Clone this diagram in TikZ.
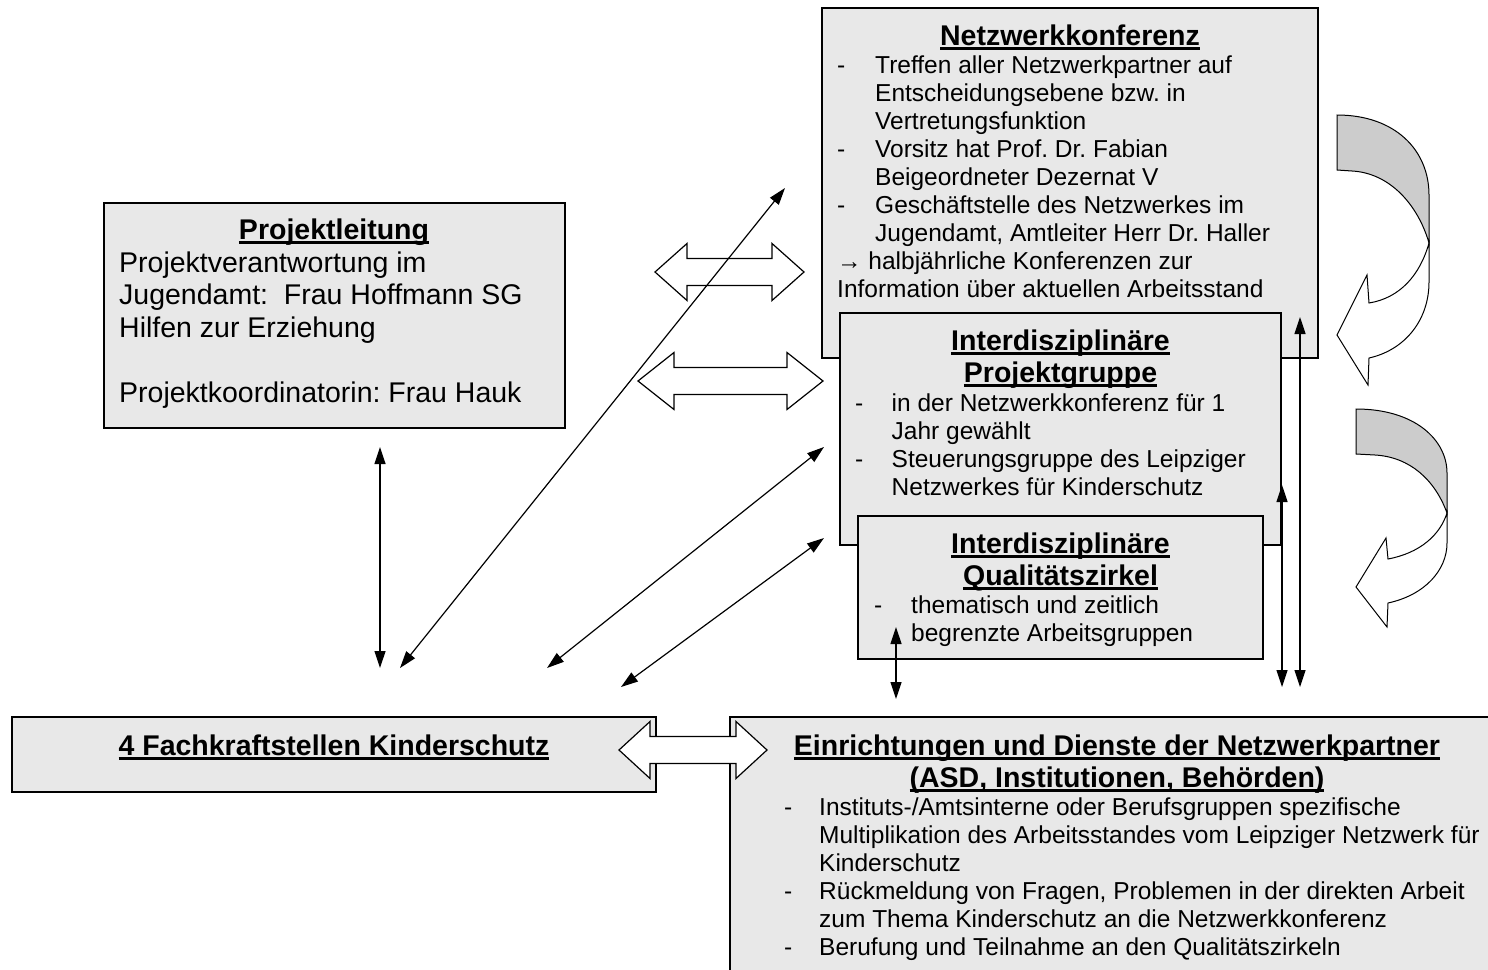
\documentclass[tikz,border=0pt]{standalone}
\usepackage{fontspec}
\setmainfont{Liberation Sans}
\usetikzlibrary{arrows.meta}
\definecolor{boxgray}{gray}{0.91}
\definecolor{bendgray}{gray}{0.8}
\frenchspacing
\newcommand{\titlesize}{\fontsize{28.5}{32}\selectfont\bfseries}
\newcommand{\bodysize}{\fontsize{24.5}{28.1}\selectfont}
\newcommand{\leitsize}{\fontsize{28.5}{32.5}\selectfont}
\newcommand{\ttl}[1]{\setbox0=\hbox{#1}\rlap{\rule[-5.2pt]{\wd0}{3.3pt}}\box0}
\def\blockarrow(#1:#2:#3:#4){\draw[blockarrow] (#1,#3) -- (#1+#4,#3-28.5) -- (#1+#4,#3-13.5) -- (#2-#4,#3-13.5) -- (#2-#4,#3-28.5) -- (#2,#3) -- (#2-#4,#3+28.5) -- (#2-#4,#3+13.5) -- (#1+#4,#3+13.5) -- (#1+#4,#3+28.5) -- cycle;}

\begin{document}
\begin{tikzpicture}[x=1pt,y=-1pt,
	box/.style={draw, line width=1.3pt, fill=boxgray, anchor=north west, inner sep=0, outer sep=0},
	title/.style={anchor=north, inner sep=0, font=\titlesize},
	body/.style={anchor=north west, inner sep=0, font=\bodysize},
	link/.style={line width=1.2pt, {Triangle[length=17pt,width=11pt]}-{Triangle[length=17pt,width=11pt]}},
	blockarrow/.style={draw, line width=1.2pt, fill=white, line join=miter},
	bendarrow/.style={draw, line width=1pt}]
		\useasboundingbox (0,0) rectangle (1488,969);
		\clip (0,0) rectangle (1488,969);
		
		%%%%% NETZWERKKONFERENZ %%%%%
		\node[box, minimum width=496, minimum height=350] (konferenz) at (822,8) {};
		\node[title] (konferenz-titel) at (1070,22.6) {\begin{tabular}{@{}c@{}}\ttl{Netzwerkkonferenz}\end{tabular}};
		\node[body] (konferenz-text) at (837,53.3) {\begin{tabular}{@{}p{38pt}@{}l@{}}
			- & Treffen aller Netzwerkpartner auf\\
			& Entscheidungsebene bzw. in\\
			& Vertretungsfunktion\\
			- & Vorsitz hat Prof. Dr. Fabian\\
			& Beigeordneter Dezernat V\\
			- & Geschäftstelle des Netzwerkes im\\
			& Jugendamt, Amtleiter Herr Dr. Haller\\
			\multicolumn{2}{@{}l@{}}{→ halbjährliche Konferenzen zur}\\
			\multicolumn{2}{@{}l@{}}{Information über aktuellen Arbeitsstand}
		\end{tabular}};
		
		%%%%% PROJEKTGRUPPE %%%%%
		\node[box, minimum width=441, minimum height=232] (gruppe) at (840,313) {};
		\node[title] (gruppe-titel) at (1060.5,327.6) {\begin{tabular}{@{}c@{}}\ttl{Interdisziplinäre}\\\ttl{Projektgruppe}\end{tabular}};
		\node[body] (gruppe-text) at (855,391.3) {\begin{tabular}{@{}p{36.5pt}@{}l@{}}
			- & in der Netzwerkkonferenz für 1\\
			& Jahr gewählt\\
			- & Steuerungsgruppe des Leipziger\\
			& Netzwerkes für Kinderschutz
		\end{tabular}};
		
		%%%%% QUALITAETSZIRKEL %%%%%
		\node[box, minimum width=405, minimum height=143] (zirkel) at (858,516) {};
		\node[title] (zirkel-titel) at (1060.5,530.6) {\begin{tabular}{@{}c@{}}\ttl{Interdisziplinäre}\\\ttl{Qualitätszirkel}\end{tabular}};
		\node[body] (zirkel-text) at (874,593.3) {\begin{tabular}{@{}p{37pt}@{}l@{}}
			- & thematisch und zeitlich\\
			& begrenzte Arbeitsgruppen
		\end{tabular}};
		
		%%%%% PROJEKTLEITUNG %%%%%
		\node[box, minimum width=461, minimum height=225] (leitung) at (104,203) {};
		\node[title] (leitung-titel) at (334,216.6) {\begin{tabular}{@{}c@{}}\ttl{Projektleitung}\end{tabular}};
		\node[body, font=\leitsize] (leitung-text) at (119,249.25) {\begin{tabular}{@{}l@{}}
			Projektverantwortung im\\
			Jugendamt:\ \ Frau Hoffmann SG\\
			Hilfen zur Erziehung\\
			\\
			Projektkoordinatorin: Frau Hauk
		\end{tabular}};
		
		%%%%% FACHKRAFTSTELLEN %%%%%
		\node[box, minimum width=644, minimum height=75] (fachkraft) at (12,717) {};
		\node[title] (fachkraft-titel) at (334,732.6) {\begin{tabular}{@{}c@{}}\ttl{4 Fachkraftstellen Kinderschutz}\end{tabular}};
		
		%%%%% EINRICHTUNGEN %%%%%
		\node[box, minimum width=780, minimum height=280] (einrichtungen) at (730,717) {};
		\node[title] (einrichtungen-titel) at (1117,732.6) {\begin{tabular}{@{}c@{}}\ttl{Einrichtungen und Dienste der Netzwerkpartner}\\\ttl{(ASD, Institutionen, Behörden)}\end{tabular}};
		\node[body] (einrichtungen-text) at (784,795.3) {\begin{tabular}{@{}p{35pt}@{}l@{}}
			- & Instituts-/Amtsinterne oder Berufsgruppen spezifische\\
			& Multiplikation des Arbeitsstandes vom Leipziger Netzwerk für\\
			& Kinderschutz\\
			- & Rückmeldung von Fragen, Problemen in der direkten Arbeit\\
			& zum Thema Kinderschutz an die Netzwerkkonferenz\\
			- & Berufung und Teilnahme an den Qualitätszirkeln
		\end{tabular}};
		
		%%%%% BLOCK ARROWS %%%%%
		\blockarrow(655:804:272:32);
		\blockarrow(638:823:381:36);
		\blockarrow(619:767:750:31);
		
		%%%%% CURVED ARROWS %%%%%
		\draw[bendarrow, fill=bendgray] (1337,115) .. controls (1395,115) and (1429,150) .. (1429,195) -- (1429,243) .. controls (1418,205) and (1390,173) .. (1352,171) -- (1337,170) -- cycle;
		\draw[bendarrow, fill=white] (1429,243) .. controls (1420,275) and (1400,298) .. (1369,303) -- (1367,275) -- (1337,335) -- (1368,385) -- (1369,358) .. controls (1405,350) and (1429,320) .. (1429,282) -- cycle;
		
		\draw[bendarrow, fill=bendgray] (1356,409) .. controls (1415,409) and (1447,440) .. (1447,473) -- (1447,513) .. controls (1435,480) and (1410,457) .. (1375,455) -- (1356,454) -- cycle;
		\draw[bendarrow, fill=white] (1447,513) .. controls (1440,535) and (1420,553) .. (1388,559) -- (1386,538) -- (1356,587) -- (1387,627) -- (1388,603) .. controls (1425,595) and (1447,570) .. (1447,543) -- cycle;
		
		%%%%% THIN ARROWS %%%%%
		\coordinate (leit-a) at (380,447);
		\coordinate (leit-b) at (380,668);
		\coordinate (diag-a) at (785,188);
		\coordinate (diag-b) at (400,668);
		\coordinate (grp-a) at (824,447);
		\coordinate (grp-b) at (547,668);
		\coordinate (zirk-a) at (824,538);
		\coordinate (zirk-b) at (621,687);
		\coordinate (zq-a) at (896,627);
		\coordinate (zq-b) at (896,699);
		\coordinate (rg-a) at (1282,485);
		\coordinate (rg-b) at (1282,687);
		\coordinate (rk-a) at (1300,317);
		\coordinate (rk-b) at (1300,687);
		
		\draw[link] (leit-a) -- (leit-b);
		\draw[link] (diag-a) -- (diag-b);
		\draw[link] (grp-a) -- (grp-b);
		\draw[link] (zirk-a) -- (zirk-b);
		\draw[link] (zq-a) -- (zq-b);
		\draw[link] (rg-a) -- (rg-b);
		\draw[link] (rk-a) -- (rk-b);
	\end{tikzpicture}
\end{document}
